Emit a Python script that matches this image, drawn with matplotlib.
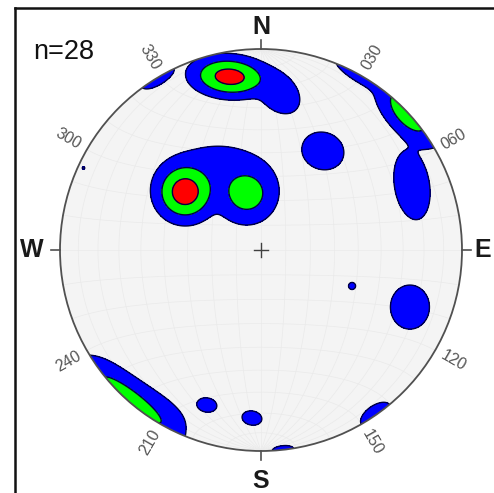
import numpy as np
import matplotlib
matplotlib.use("Agg")
import matplotlib.pyplot as plt
from matplotlib.patches import Circle
from matplotlib.lines import Line2D

# ---------------- data ----------------
n_poles = 28
# density clusters in projected net coordinates (unit = net radius)
cluster_x = [-0.378, -0.070, -0.214, -0.156, 0.085, -0.515, 0.500, 0.731, 0.751, 0.308,
             -0.649, -0.640, -0.269, -0.045, 0.109, 0.570, 0.453, 0.741, -0.883]
cluster_y = [0.289, 0.279, 0.373, 0.862, 0.786, 0.857, 0.866, 0.682, 0.323, 0.493,
             -0.735, -0.748, -0.771, -0.836, -0.994, -0.819, -0.179, -0.284, 0.408]
cluster_peak = [3.55, 2.47, 1.5, 3.42, 1.6, 1.5, 1.5, 2.55, 1.6, 1.6,
                1.5, 2.7, 1.5, 1.5, 1.4, 1.5, 1.2, 1.6, 1.08]
cluster_sa = [0.106, 0.114, 0.249, 0.140, 0.129, 0.100, 0.159, 0.160, 0.179, 0.109,
              0.335, 0.190, 0.055, 0.055, 0.065, 0.095, 0.029, 0.100, 0.016]
cluster_sb = [0.106, 0.114, 0.159, 0.074, 0.090, 0.040, 0.040, 0.078, 0.090, 0.095,
              0.110, 0.042, 0.039, 0.039, 0.025, 0.050, 0.029, 0.113, 0.016]
cluster_angle = [0, 0, 0, -4, -45, 31, -30, -47, -81, -20,
                 -34, -38, -10, -10, 6, 35, 0, 0, 0]
cluster_shape = [2, 2, 2, 2, 2, 2, 2, 2, 2, 2,
                 4, 2, 2, 2, 2, 2, 2, 2, 2]

levels = [1, 2, 3]
level_colors = ["#0000ff", "#00ff00", "#ff0000"]
azimuth_labels = ["030", "060", "120", "150", "210", "240", "300", "330"]
azimuth_values = [30, 60, 120, 150, 210, 240, 300, 330]
cardinals = ["N", "E", "S", "W"]
cardinal_az = [0, 90, 180, 270]

# ---------------- figure ----------------
W, H = 494, 493
CX, CY, R = 261, 250, 201
fig = plt.figure(figsize=(W / 100, H / 100), dpi=100)
ax = fig.add_axes([0, 0, 1, 1])
ax.set_xlim((0 - CX) / R, (W - CX) / R)
ax.set_ylim((CY - H) / R, CY / R)
ax.axis("off")

circ_bg = Circle((0, 0), 1, facecolor="#f4f4f4", edgecolor="none", zorder=0)
ax.add_patch(circ_bg)

# faint equal-area net
t = np.linspace(0, np.pi, 181)
for phi in np.radians(np.arange(10, 180, 10)):
    den = np.sqrt(1 + np.sin(t) * np.sin(phi))
    ax.plot(np.sin(t) * np.cos(phi) / den, np.cos(t) / den, color="#eaeaea", lw=0.5, zorder=1)
for alp in np.radians(np.arange(10, 180, 10)):
    den = np.sqrt(1 + np.sin(alp) * np.sin(t))
    ax.plot(np.sin(alp) * np.cos(t) / den, np.cos(alp) / den, color="#eaeaea", lw=0.5, zorder=1)

# density field
g = np.linspace(-1.03, 1.03, 800)
X, Y = np.meshgrid(g, g)
acc = np.zeros_like(X)
p = 3.0
for cx, cy, A, sa, sb, ang, k in zip(cluster_x, cluster_y, cluster_peak, cluster_sa,
                                      cluster_sb, cluster_angle, cluster_shape):
    a = np.radians(ang)
    dx, dy = X - cx, Y - cy
    s = dx * np.cos(a) + dy * np.sin(a)
    w = -dx * np.sin(a) + dy * np.cos(a)
    f = A * np.exp(-0.5 * np.abs(s / sa) ** k - 0.5 * (w / sb) ** 2)
    acc += f ** p
field = acc ** (1 / p)

clip = Circle((0, 0), 1, transform=ax.transData, facecolor="none", edgecolor="none")
ax.add_patch(clip)
cf = ax.contourf(X, Y, field, levels=levels + [100], colors=level_colors, zorder=2)
cf.set_clip_path(clip)
cl = ax.contour(X, Y, field, levels=levels, colors="#000040", linewidths=1.0, zorder=3)
cl.set_clip_path(clip)

# primitive circle
ax.add_patch(Circle((0, 0), 1, facecolor="none", edgecolor="#505050", lw=1.3, zorder=4))

# centre cross
ax.plot([-0.037, 0.037], [0, 0], color="#404040", lw=1.0, zorder=5)
ax.plot([0, 0], [-0.037, 0.037], color="#404040", lw=1.0, zorder=5)

# cardinal ticks and labels
for lab, az in zip(cardinals, cardinal_az):
    a = np.radians(az)
    ux, uy = np.sin(a), np.cos(a)
    ax.plot([ux, ux * 1.045], [uy, uy * 1.045], color="#505050", lw=1.2, zorder=5)
    rr = {0: 1.11, 90: 1.105, 180: 1.15, 270: 1.14}[az]
    ax.text(ux * rr, uy * rr, lab, ha="center", va="center", fontsize=18,
            fontweight="bold", family="Liberation Sans", color="#1a1a1a", zorder=6)

# azimuth labels
for lab, az in zip(azimuth_labels, azimuth_values):
    a = np.radians(az)
    rot = 90 - az if az < 180 else 270 - az
    ax.text(np.sin(a) * 1.105, np.cos(a) * 1.105, lab, ha="center", va="center",
            rotation=rot, rotation_mode="anchor", fontsize=11.5, color="#555555",
            family="Liberation Sans", zorder=6)

ax.text((33 - CX) / R, (CY - 59) / R, f"n={n_poles}", ha="left", va="baseline",
        fontsize=19.5, family="Liberation Sans", color="#111111")

# frame (cropped on right and bottom)
fig.add_artist(Line2D([15 / W, 15 / W], [0, 1 - 8 / H], color="#111111", lw=1.8))
fig.add_artist(Line2D([15 / W, 1], [1 - 8 / H, 1 - 8 / H], color="#111111", lw=1.8))

fig.savefig("out.png", dpi=100, facecolor="white")
